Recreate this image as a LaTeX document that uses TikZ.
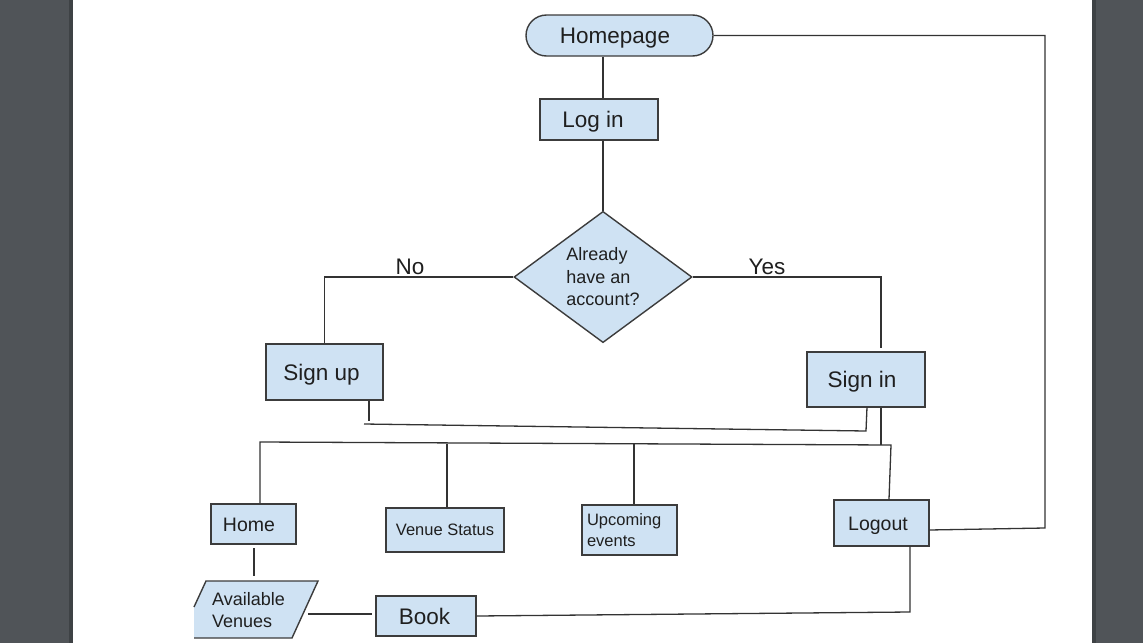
\documentclass[tikz,border=0pt]{standalone}
\usepackage{fontspec}
\setmainfont{Liberation Sans}
\usetikzlibrary{shapes.geometric}
\definecolor{bgc}{HTML}{505458}
\definecolor{bgedge}{HTML}{3E4245}
\definecolor{boxfill}{HTML}{CFE2F3}
\definecolor{boxline}{HTML}{3C3C3C}
\definecolor{wirec}{HTML}{333333}
\definecolor{txtc}{HTML}{1F1F1F}
\newcommand\fbig{\fontsize{22.5}{27}\selectfont}
\newcommand\fmid{\fontsize{19.5}{23}\selectfont}
\newcommand\fsma{\fontsize{18}{22.5}\selectfont}
\newcommand\ftin{\fontsize{16.5}{21}\selectfont}
\tikzset{
  boxbase/.style={rectangle, draw=boxline, fill=boxfill, line width=1.4pt, text=txtc, inner sep=0pt},
  box/.style={boxbase, text depth=0pt},
  bigcap/.style={font=\fbig, text height=16.1pt},
  midcap/.style={font=\fmid, text height=14pt},
  tincap/.style={font=\ftin, text height=11.8pt},
  wire/.style={draw=wirec, line width=1.3pt},
  lbl/.style={text=txtc, inner sep=0pt}
}
\begin{document}
\begin{tikzpicture}[x=1pt,y=-1pt]
\useasboundingbox (0,0) rectangle (1143,643);
% page background
\fill[bgc] (0,0) rectangle (1143,643);
\fill[bgedge] (69,0) rectangle (73,643);
\fill[bgedge] (1092,0) rectangle (1096,643);
\fill[white] (73,0) rectangle (1092,643);

% nodes
\node[box, bigcap, rounded corners=20.5pt, minimum width=187pt, minimum height=41pt] (hp) at (619.5,35.5) {Homepage\kern9pt};
\node[box, bigcap, minimum width=118pt, minimum height=41pt] (login) at (599,119.5) {Log in\kern12pt};
\node[diamond, draw=boxline, fill=boxfill, line width=1.4pt, text=txtc, inner sep=0pt, minimum width=178pt, minimum height=130pt, align=left, font=\fsma] (dia) at (603,277) {Already\\have an\\account?};
\node[box, bigcap, minimum width=117pt, minimum height=56pt] (signup) at (324.5,372) {Sign up\kern6pt};
\node[box, bigcap, minimum width=118pt, minimum height=55pt] (signin) at (866,379.5) {Sign in\kern8pt};
\node[box, midcap, minimum width=85pt, minimum height=40pt] (home) at (253.5,524) {Home\kern9pt};
\node[box, tincap, minimum width=118pt, minimum height=44pt] (venue) at (445,530) {Venue Status};
\node[boxbase, minimum width=95pt, minimum height=50pt, text width=85pt, inner xsep=5pt, inner ysep=0pt, align=left, font=\ftin] (upc) at (629.5,530) {\raisebox{-1.5pt}{Upcoming}\\\raisebox{-1.5pt}{events}};
\node[box, midcap, minimum width=95pt, minimum height=46pt] (logout) at (881.5,523) {Logout\kern7pt};
\node[box, bigcap, minimum width=100pt, minimum height=40pt] (book) at (426,616) {Book\kern3pt};

% Available Venues parallelogram (clipped on the left)
\fill[boxfill] (206,581) -- (318,581) -- (292,638) -- (194,638) -- (194,607) -- cycle;
\draw[draw=boxline, line width=1.4pt] (194,607) -- (206,581) -- (318,581) -- (292,638) -- (194,638);
\node[lbl, align=left, font=\fsma] (avail) at (248.5,610) {Available\\Venues};

% labels
\node[lbl, font=\fbig] (no) at (410,267) {No};
\node[lbl, font=\fbig] (yes) at (767,267) {Yes};

% coordinates for free ends
\coordinate (yesend) at (881,348);
\coordinate (suend) at (369,421);
\coordinate (c1) at (364,424);
\coordinate (c2) at (866,431);
\coordinate (c3) at (867,407);
\coordinate (sidown) at (881,445);
\coordinate (busL) at (260,442);
\coordinate (busR) at (891,445);
\coordinate (b2) at (447,443.5);
\coordinate (b3) at (634,444);
\coordinate (homeend) at (254,576);
\coordinate (homest) at (254,548);
\coordinate (avend) at (308,614);
\coordinate (bkend) at (372,614);
\coordinate (lo1) at (910,612);
\coordinate (lo2) at (910,546);
\coordinate (lo0) at (929,530);
\coordinate (lr1) at (1045,528);
\coordinate (lr2) at (1045,35.5);

% connectors
\draw[wire] (hp.south -| dia.north) -- (login.north -| dia.north);
\draw[wire] (login.south -| dia.north) -- (dia.north);
\draw[wire] (dia.west) -| (signup.north);
\draw[wire] (dia.east) -| (yesend);
\draw[wire] (signup.south -| suend) -- (suend);
\draw[wire] (c1) -- (c2) -- (c3);
\draw[wire] (signin.south -| sidown) -- (sidown);
\draw[wire] (home.north -| busL) -- (busL) -- (busR) -- (logout.north -| 889,0);
\draw[wire] (b2) -- (b2 |- venue.north);
\draw[wire] (b3) -- (b3 |- upc.north);
\draw[wire] (homest) -- (homeend);
\draw[wire] (avend) -- (bkend);
\draw[wire] (book.east) -- (lo1) -- (lo2);
\draw[wire] (lo0) -- (lr1) -- (lr2) -- (hp.east);
\end{tikzpicture}
\end{document}
